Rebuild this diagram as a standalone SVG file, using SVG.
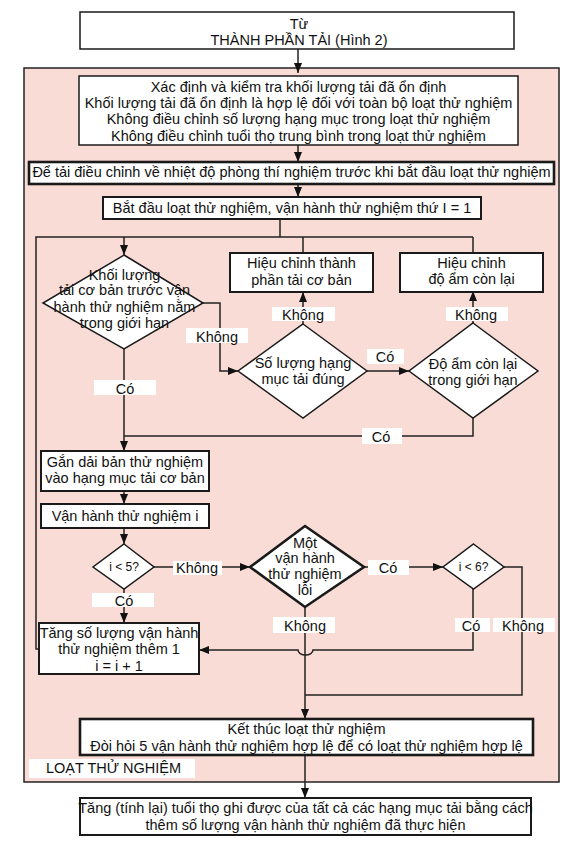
<svg xmlns="http://www.w3.org/2000/svg" width="576" height="847" viewBox="0 0 576 847">
<defs>
<style>
text{font-family:"Liberation Sans",Arial,sans-serif;font-size:14.5px;fill:#111;text-anchor:middle}
.b{fill:#fff;stroke:#1a1a1a}
.t1{stroke-width:1.5}
.t2{stroke-width:2}
.t3{stroke-width:2.6}
.c{fill:none;stroke:#222;stroke-width:1.5}
.lb{fill:#fff;stroke:none}
.sm{font-size:12px}
.l{text-anchor:start}
</style>
<marker id="ah" viewBox="0 0 10 8" refX="10" refY="4" markerWidth="10" markerHeight="8" orient="auto" markerUnits="userSpaceOnUse"><path d="M0,0 L10,4 L0,8z" fill="#111"/></marker>
</defs>
<rect width="576" height="847" fill="#fff"/>
<g id="container">
<rect x="24" y="68" width="535" height="714" fill="#f9dcd6" stroke="#222" stroke-width="1.5"/>
</g>
<g id="connectors">
<path class="c" d="M298,49 V73" marker-end="url(#ah)"/>
<path class="c" d="M298,145 V162" marker-end="url(#ah)"/>
<path class="c" d="M298,184 V197" marker-end="url(#ah)"/>
<path class="c" d="M280,219 V237"/>
<path class="c" d="M39,649 H36 V237 H473"/>
<path class="c" d="M303,253 V237"/>
<path class="c" d="M473,253 V237"/>
<path class="c" d="M124,237 V255" marker-end="url(#ah)"/>
<path class="c" d="M203,303 H220 V371 H238" marker-end="url(#ah)"/>
<path class="c" d="M124,349 V451" marker-end="url(#ah)"/>
<path class="c" d="M303,324 V292" marker-end="url(#ah)"/>
<path class="c" d="M367,371 H409" marker-end="url(#ah)"/>
<path class="c" d="M473,323 V291" marker-end="url(#ah)"/>
<path class="c" d="M473,418 V436 H124"/>
<path class="c" d="M124,491 V504" marker-end="url(#ah)"/>
<path class="c" d="M124,528 V544" marker-end="url(#ah)"/>
<path class="c" d="M154,567 H250" marker-end="url(#ah)"/>
<path class="c" d="M124,589 V623" marker-end="url(#ah)"/>
<path class="c" d="M305,607 V719" marker-end="url(#ah)"/>
<path class="c" d="M364,567 H443" marker-end="url(#ah)"/>
<path class="c" d="M473,589 V650 H313 A7.5,5 0 0 1 298,650 H199" marker-end="url(#ah)"/>
<path class="c" d="M504,567 H522 V695 H305"/>
<path class="c" d="M305,755 V798" marker-end="url(#ah)"/>
<rect class="lb" x="186" y="328" width="62" height="15"/>
<text x="217" y="342">Không</text>
<rect class="lb" x="94" y="380" width="62" height="15"/>
<text x="125" y="394">Có</text>
<rect class="lb" x="272" y="307" width="63" height="14"/>
<text x="303" y="320">Không</text>
<rect class="lb" x="367" y="349" width="37" height="15"/>
<text x="385" y="362">Có</text>
<rect class="lb" x="446" y="307" width="62" height="14"/>
<text x="476" y="320">Không</text>
<rect class="lb" x="362" y="428" width="40" height="16"/>
<text x="381" y="442">Có</text>
<rect class="lb" x="173" y="561" width="49" height="14"/>
<text x="197" y="573">Không</text>
<rect class="lb" x="92" y="593" width="62" height="14"/>
<text x="124" y="606">Có</text>
<rect class="lb" x="273" y="617" width="62" height="16"/>
<text x="305" y="631">Không</text>
<rect class="lb" x="368" y="560" width="41" height="15"/>
<text x="388" y="573">Có</text>
<rect class="lb" x="455" y="618" width="35" height="14"/>
<text x="471" y="631">Có</text>
<rect class="lb" x="493" y="618" width="62" height="14"/>
<text x="523" y="631">Không</text>
</g>
<g id="n-start">
<rect class="b t1" x="80" y="12" width="434" height="37"/>
<text x="299" y="29">Từ</text>
<text x="299" y="45">THÀNH PHẦN TẢI (Hình 2)</text>
</g>
<g id="n-determine">
<rect class="b t1" x="79" y="76" width="439" height="69"/>
<text x="298.5" y="92">Xác định và kiểm tra khối lượng tải đã ổn định</text>
<text x="298.5" y="108">Khối lượng tải đã ổn định là hợp lệ đối với toàn bộ loạt thử nghiệm</text>
<text x="298.5" y="124">Không điều chỉnh số lượng hạng mục trong loạt thử nghiệm</text>
<text x="298.5" y="141">Không điều chỉnh tuổi thọ trung bình trong loạt thử nghiệm</text>
</g>
<g id="n-condition">
<rect class="b t3" x="29" y="162" width="525" height="22"/>
<text x="291.5" y="177">Để tải điều chỉnh về nhiệt độ phòng thí nghiệm trước khi bắt đầu loạt thử nghiệm</text>
</g>
<g id="n-begin">
<rect class="b t2" x="103" y="197" width="378" height="22"/>
<text x="292" y="213">Bắt đầu loạt thử nghiệm, vận hành thử nghiệm thứ I = 1</text>
</g>
<g id="d-mass">
<polygon class="b t1" points="124,255 203,303 124,349 43,303"/>
<text x="124.5" y="280">Khối lượng</text>
<text x="124.5" y="295">tải cơ bản trước vận</text>
<text x="124.5" y="312">hành thử nghiệm nằm</text>
<text x="124.5" y="328">trong giới hạn</text>
</g>
<g id="n-adjust-comp">
<rect class="b t2" x="230" y="253" width="143" height="39"/>
<text x="301.5" y="268">Hiệu chỉnh thành</text>
<text x="301.5" y="285">phần tải cơ bản</text>
</g>
<g id="n-adjust-moist">
<rect class="b t2" x="400" y="253" width="143" height="39"/>
<text x="471.5" y="268">Hiệu chỉnh</text>
<text x="471.5" y="284">độ ẩm còn lại</text>
</g>
<g id="d-count">
<polygon class="b t1" points="303,324 367,371 303,418 238,371"/>
<text x="303" y="368">Số lượng hạng</text>
<text x="303" y="384">mục tải đúng</text>
</g>
<g id="d-moist">
<polygon class="b t1" points="473,323 538,371 473,418 409,371"/>
<text x="473" y="369">Độ ẩm còn lại</text>
<text x="473" y="385">trong giới hạn</text>
</g>
<g id="n-attach">
<rect class="b t2" x="41" y="451" width="168" height="40"/>
<text x="125" y="467">Gắn dải bản thử nghiệm</text>
<text x="125" y="483">vào hạng mục tải cơ bản</text>
</g>
<g id="n-run">
<rect class="b t2" x="41" y="504" width="168" height="24"/>
<text x="125" y="521">Vận hành thử nghiệm i</text>
</g>
<g id="d-i5">
<polygon class="b t1" points="124,544 154,567 124,589 93,567"/>
<text class="sm" x="124" y="571">i &lt; 5?</text>
</g>
<g id="d-fail">
<polygon class="b t3" points="305,526 364,567 305,607 250,567"/>
<text x="305" y="548">Một</text>
<text x="305" y="563">vận hành</text>
<text x="305" y="579">thử nghiệm</text>
<text x="305" y="595">lỗi</text>
</g>
<g id="d-i6">
<polygon class="b t1" points="473.5,544 504,567 473.5,589 443,567"/>
<text class="sm" x="473.5" y="571">i &lt; 6?</text>
</g>
<g id="n-increase">
<rect class="b t2" x="39" y="623" width="160" height="51"/>
<text x="119" y="638">Tăng số lượng vận hành</text>
<text x="119" y="654">thử nghiệm thêm 1</text>
<text x="119" y="671">i = i + 1</text>
</g>
<g id="n-end">
<rect class="b t3" x="80" y="719" width="453" height="36"/>
<text x="306.5" y="734">Kết thúc loạt thử nghiệm</text>
<text x="306.5" y="751">Đòi hỏi 5 vận hành thử nghiệm hợp lệ để có loạt thử nghiệm hợp lệ</text>
</g>
<g id="container-label">
<rect class="lb" x="29" y="759" width="166" height="19"/>
<text class="l" x="46" y="773">LOẠT THỬ NGHIỆM</text>
</g>
<g id="n-final">
<rect class="b t2" x="80" y="798" width="451" height="37"/>
<text x="305.5" y="813">Tăng (tính lại) tuổi thọ ghi được của tất cả các hạng mục tải bằng cách</text>
<text x="305.5" y="830">thêm số lượng vận hành thử nghiệm đã thực hiện</text>
</g>
</svg>
